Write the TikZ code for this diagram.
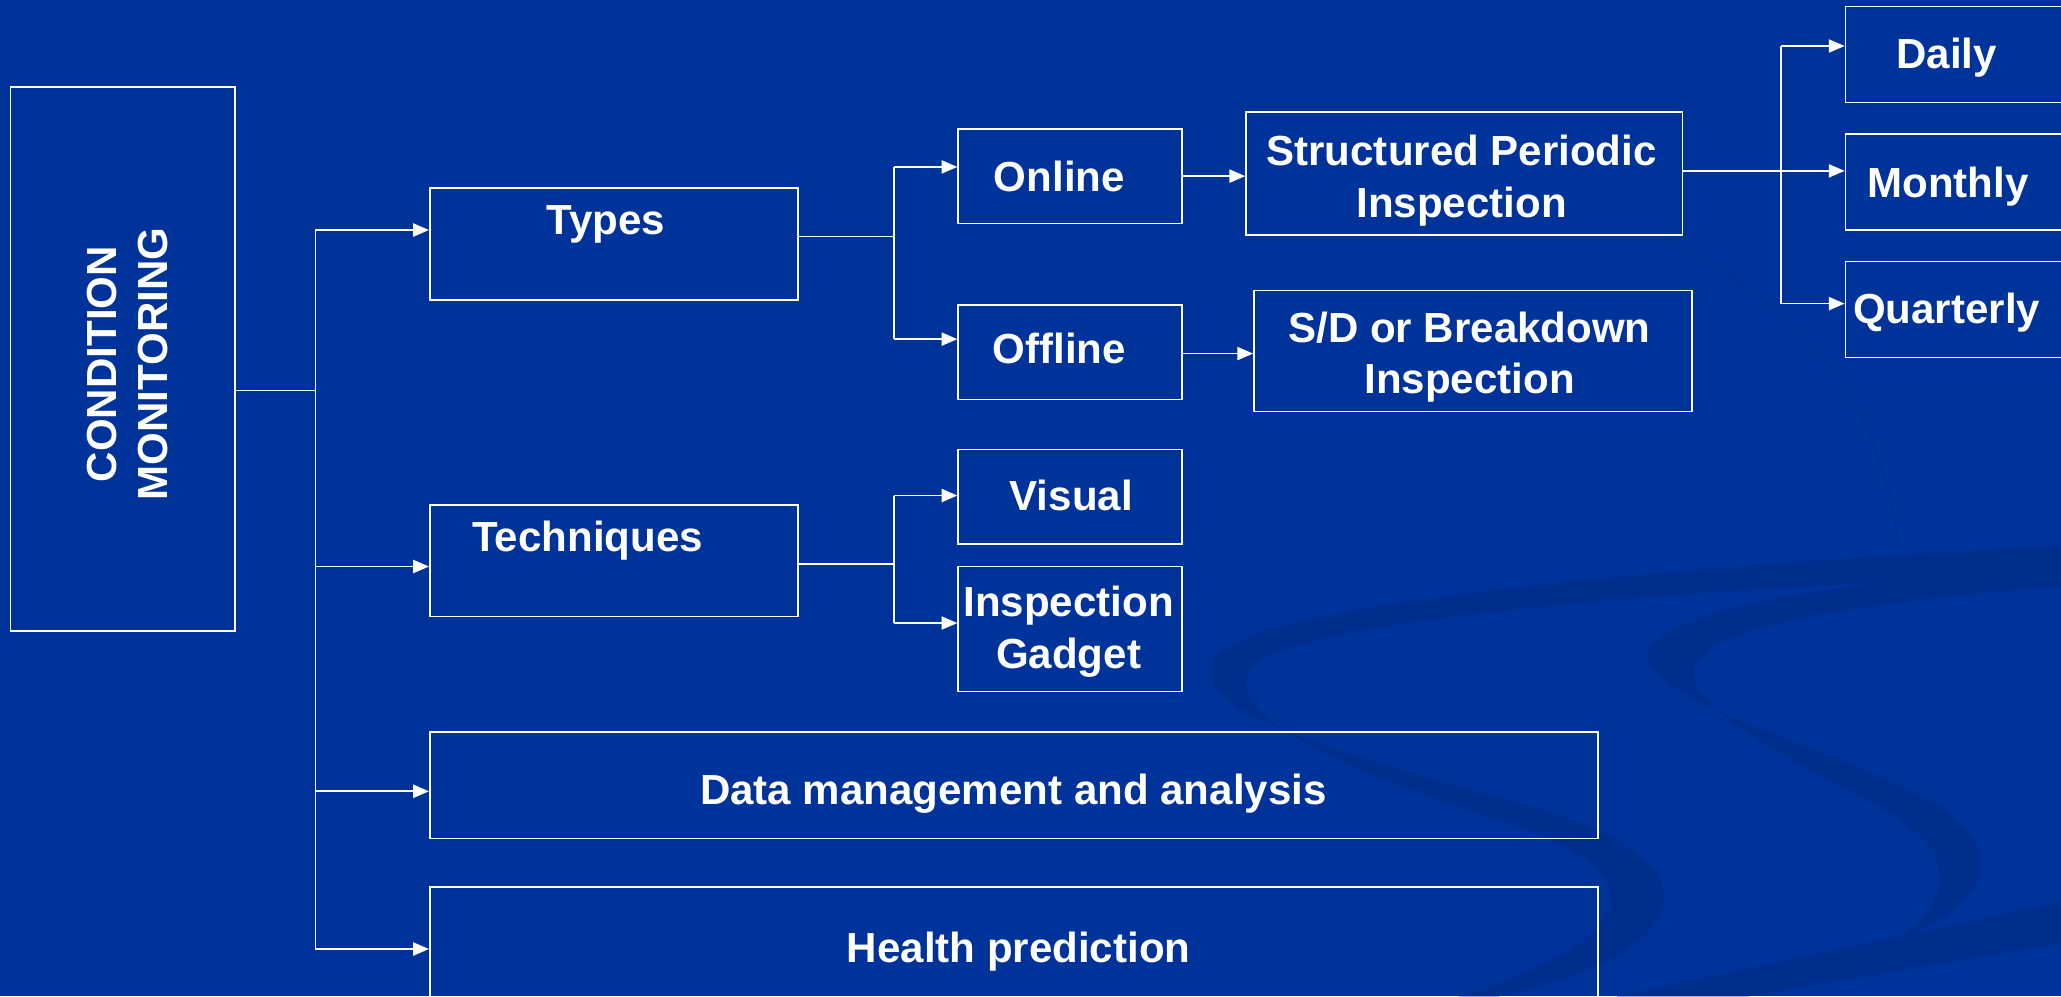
\documentclass[tikz,border=0pt]{standalone}
\usepackage{fontspec}
\setmainfont{Liberation Sans}
\usetikzlibrary{arrows.meta}
\definecolor{slide}{RGB}{0,51,153}
\definecolor{swoosh}{RGB}{0,46,140}
\begin{document}
\begin{tikzpicture}[x=1pt,y=-1pt,
  box/.style={draw=white,line width=1.3pt,inner sep=0pt},
  txt/.style={text=white,font=\fontsize{32}{39}\selectfont\bfseries,align=center,inner sep=0pt},
  link/.style={draw=white,line width=1.3pt},
  arr/.style={link,-{Triangle[length=12pt,width=10pt]}}]
% slide background
\fill[slide] (0,0) rectangle (1568,758);
\clip (0,0) rectangle (1568,758);
% decorative ribbons
\fill[swoosh] (1568,415) .. controls (1300,430) and (960,455) .. (925,500)
  .. controls (895,545) and (1050,580) .. (1180,618)
  .. controls (1310,660) and (1290,725) .. (1140,758)
  -- (1110,758) .. controls (1250,715) and (1255,668) .. (1165,632)
  .. controls (1040,592) and (925,548) .. (952,508)
  .. controls (985,470) and (1300,446) .. (1568,438) -- cycle;
\fill[swoosh] (1568,428) .. controls (1400,445) and (1270,460) .. (1254,495)
  .. controls (1240,530) and (1400,570) .. (1470,610)
  .. controls (1530,645) and (1515,690) .. (1440,715)
  .. controls (1485,690) and (1490,650) .. (1440,620)
  .. controls (1360,575) and (1270,535) .. (1292,502)
  .. controls (1310,475) and (1420,458) .. (1568,446) -- cycle;
\fill[swoosh] (1568,686) -- (1230,758) -- (1330,758) -- (1568,718) -- cycle;
\draw[swoosh,line width=1pt] (1268,182) .. controls (1360,230) and (1430,290) .. (1445,420);
% boxes
\node[box,minimum width=171,minimum height=414] (cm) at (93.5,273) {};
\node[box,minimum width=280,minimum height=85] (types) at (467,185.5) {};
\node[box,minimum width=280,minimum height=85] (tech) at (467,426.5) {};
\node[box,minimum width=889,minimum height=81] (data) at (771.5,597.5) {};
\node[box,minimum width=889,minimum height=105] (health) at (771.5,727.5) {};
\node[box,minimum width=170,minimum height=72] (online) at (814,134) {};
\node[box,minimum width=170,minimum height=72] (offline) at (814,268) {};
\node[box,minimum width=170,minimum height=72] (visual) at (814,378) {};
\node[box,minimum width=170,minimum height=95] (gadget) at (814,478.5) {};
\node[box,minimum width=332,minimum height=94] (spi) at (1114,132) {};
\node[box,minimum width=333,minimum height=92] (sdi) at (1120.5,267) {};
\node[box,minimum width=180,minimum height=73] (daily) at (1494,41.5) {};
\node[box,minimum width=180,minimum height=73] (monthly) at (1494,138.5) {};
\node[box,minimum width=180,minimum height=73] (quarterly) at (1494,235.5) {};
% labels
\node[txt,rotate=90] (cmt) at (97,277) {CONDITION\\MONITORING};
\node[txt] (typest) at (461,171) {Types};
\node[txt] (techt) at (447,411) {Techniques};
\node[txt] (datat) at (771,604) {Data management and analysis};
\node[txt] (healtht) at (775,724) {Health prediction};
\node[txt] (onlinet) at (806,134) {Online};
\node[txt] (offlinet) at (806,265) {Offline};
\node[txt] (visualt) at (815,377) {Visual};
\node[txt] (gadgett) at (813,480.5) {Inspection\\Gadget};
\node[txt] (spit) at (1112,137.5) {Structured Periodic\\Inspection};
\node[txt] (sdit) at (1118,271.5) {S/D or Breakdown\\Inspection};
\node[txt] (dailyt) at (1481,44) {Daily};
\node[txt] (monthlyt) at (1482,142) {Monthly};
\node[txt] (quarterlyt) at (1481,238) {Quarterly};
% junction points
\coordinate (j0) at (240,297);
\coordinate (j1) at (240,175);
\coordinate (j2) at (240,431);
\coordinate (j3) at (240,602);
\coordinate (j4) at (240,722);
\coordinate (k0) at (680,180);
\coordinate (k1) at (680,127);
\coordinate (k2) at (680,258);
\coordinate (m0) at (680,429);
\coordinate (m1) at (680,377);
\coordinate (m2) at (680,474);
\coordinate (n0) at (1355,130);
\coordinate (n1) at (1355,35);
\coordinate (n2) at (1355,231);
\coordinate (p1) at (0,134);
\coordinate (p2) at (0,269);
% main trunk
\draw[link] (cm.east|-j0) -- (j0);
\draw[link] (j1) -- (j4);
\draw[arr] (j1) -- (types.west|-j1);
\draw[arr] (j2) -- (tech.west|-j2);
\draw[arr] (j3) -- (data.west|-j3);
\draw[arr] (j4) -- (health.west|-j4);
% types branch
\draw[link] (types.east|-k0) -- (k0);
\draw[link] (k1) -- (k2);
\draw[arr] (k1) -- (online.west|-k1);
\draw[arr] (k2) -- (offline.west|-k2);
\draw[arr] (online.east|-p1) -- (spi.west|-p1);
\draw[arr] (offline.east|-p2) -- (sdi.west|-p2);
% techniques branch
\draw[link] (tech.east|-m0) -- (m0);
\draw[link] (m1) -- (m2);
\draw[arr] (m1) -- (visual.west|-m1);
\draw[arr] (m2) -- (gadget.west|-m2);
% inspection frequency
\draw[arr] (spi.east|-n0) -- (monthly.west|-n0);
\draw[link] (n1) -- (n2);
\draw[arr] (n1) -- (daily.west|-n1);
\draw[arr] (n2) -- (quarterly.west|-n2);
\end{tikzpicture}
\end{document}
